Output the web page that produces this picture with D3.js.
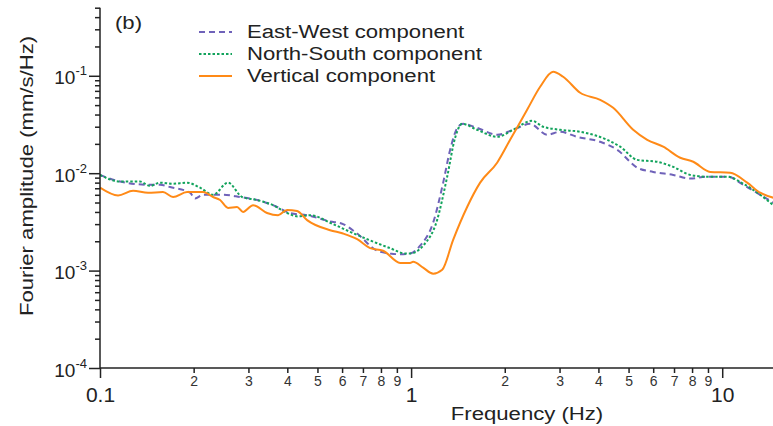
<!DOCTYPE html>
<html>
<head>
<meta charset="utf-8">
<title>Fourier amplitude spectra</title>
<script src="https://cdn.jsdelivr.net/npm/d3@7"></script>
<style>
    body { margin: 0; background: #fff; }
    text { font-family: "Liberation Sans", Arial, sans-serif; fill: #222; }
    .axis path, .axis line { stroke: #222; stroke-width: 1.5; }
</style>
</head>
<body>
<svg id="chart" width="773" height="426"></svg>
<script>
    // frequencies (Hz) / amplitudes (mm/s/Hz)
    var ewFreq = [0.1, 0.116, 0.1448, 0.156, 0.168, 0.1947, 0.2021, 0.2144, 0.2486, 0.2819, 0.3198, 0.3708, 0.4083,
        0.4631, 0.549, 0.6045, 0.6708, 0.7776, 0.856, 0.9219, 0.9926, 1.069, 1.177, 1.268, 1.335, 1.416, 1.47, 1.63,
        1.89, 2.128, 2.413, 2.737, 3.014, 3.419, 4.053, 4.597, 5.33, 6.0, 6.96, 7.89, 8.95, 10.4, 11.68, 13.25, 14.59];
    var ewAmp = [0.0096, 0.0082, 0.0076, 0.0076, 0.0072, 0.0063, 0.0055, 0.006, 0.006, 0.0057, 0.0053, 0.0045, 0.0039,
        0.0037, 0.0032, 0.003, 0.0024, 0.0016, 0.0015, 0.00147, 0.0015, 0.0018, 0.0031, 0.008, 0.0174, 0.03, 0.0321, 0.0292,
        0.0248, 0.0279, 0.0321, 0.0248, 0.0266, 0.0236, 0.021, 0.0174, 0.0114, 0.0103, 0.0096, 0.0088, 0.0092, 0.0092, 0.0076, 0.006, 0.005];

    var nsFreq = [0.1, 0.116, 0.1345, 0.1448, 0.156, 0.1717, 0.1905, 0.2097, 0.2309, 0.258, 0.2861, 0.3198, 0.36, 0.3993,
        0.4333, 0.4734, 0.5614, 0.6367, 0.7222, 0.856, 0.9565, 0.9926, 1.093, 1.212, 1.306, 1.385, 1.459, 1.63, 1.89,
        2.128, 2.449, 2.657, 3.014, 3.495, 4.268, 4.699, 5.33, 6.18, 6.96, 7.89, 8.95, 10.4, 11.68, 13.25, 14.59];
    var nsAmp = [0.0096, 0.0082, 0.0082, 0.0074, 0.008, 0.0078, 0.008, 0.0071, 0.006, 0.008, 0.0057, 0.0053, 0.0047, 0.0039,
        0.0036, 0.0037, 0.003, 0.0025, 0.0021, 0.0017, 0.0015, 0.0015, 0.0018, 0.0033, 0.0092, 0.0231, 0.0321, 0.0279, 0.0236,
        0.0279, 0.0345, 0.03, 0.0279, 0.0266, 0.022, 0.0187, 0.0137, 0.0131, 0.0116, 0.0096, 0.0092, 0.0092, 0.0078, 0.006, 0.0047];

    var vFreq = [0.1, 0.1143, 0.1277, 0.1427, 0.1594, 0.1717, 0.1905, 0.2144, 0.2309, 0.2432, 0.258, 0.2757, 0.2882,
        0.3105, 0.3443, 0.3736, 0.3993, 0.4299, 0.4631, 0.549, 0.6045, 0.6708, 0.7384, 0.8128, 0.9219, 0.9926, 1.015,
        1.093, 1.177, 1.259, 1.365, 1.514, 1.667, 1.89, 2.081, 2.36, 2.599, 2.861, 3.081, 3.495, 4.053, 4.462, 5.174,
        5.74, 6.46, 7.33, 8.07, 9.15, 10.6, 12.03, 13.25, 14.59];
    var vAmp = [0.0071, 0.0059, 0.0066, 0.0063, 0.0064, 0.0057, 0.0064, 0.0064, 0.0057, 0.0053, 0.0044, 0.0045, 0.004,
        0.0047, 0.0039, 0.0037, 0.0042, 0.0041, 0.0033, 0.0026, 0.0024, 0.0021, 0.0017, 0.0016, 0.0012, 0.0012, 0.00123,
        0.00107, 0.00093, 0.00102, 0.00207, 0.0045, 0.008, 0.0128, 0.022, 0.0448, 0.0771, 0.11, 0.0977, 0.0669, 0.0567,
        0.0469, 0.0279, 0.022, 0.0187, 0.0144, 0.0131, 0.0103, 0.0101, 0.008, 0.0063, 0.0056];

    var seriesNames = ["East-West component", "North-South component", "Vertical component"];
    var xMajor = [0.1, 1, 10];
    var xMinor = [0.2, 0.3, 0.4, 0.5, 0.6, 0.7, 0.8, 0.9, 2, 3, 4, 5, 6, 7, 8, 9];
    var yMajor = [1e-4, 1e-3, 1e-2, 1e-1];
    var yMajorExp = ["-4", "-3", "-2", "-1"];

    var svg = d3.select("#chart");
    var mLeft = 100, mRight = 777, mTop = 7.7, mBottom = 368;
    var wide = 1.23; // the original lettering is wider than Liberation Sans

    var x = d3.scaleLog().domain([0.1, 15]).range([mLeft, mRight]);
    var y = d3.scaleLog().domain([1e-4, 0.5]).range([mBottom, mTop]);

    // y minor ticks
    var yMinor = [];
    yMajor.forEach(function (d) {
        for (var k = 2; k <= 9; k++) {
            if (d * k <= 0.5 + 1e-9) yMinor.push(d * k);
        }
    });

    svg.append("clipPath").attr("id", "clip")
        .append("rect").attr("x", mLeft).attr("y", mTop).attr("width", mRight - mLeft).attr("height", mBottom - mTop);

    // curves
    var line = d3.line()
        .x(function (d) { return x(d[0]); })
        .y(function (d) { return y(d[1]); })
        .curve(d3.curveMonotoneX);

    function pairs(f, a) { return f.map(function (v, i) { return [v, a[i]]; }); }

    var series = [
        {data: pairs(ewFreq, ewAmp), color: "#6f62b9", dash: "6,4"},
        {data: pairs(nsFreq, nsAmp), color: "#12a35c", dash: "2.5,2"},
        {data: pairs(vFreq, vAmp), color: "#ff8a17", dash: null}
    ];

    var g = svg.append("g").attr("clip-path", "url(#clip)");
    g.selectAll("path").data(series).enter().append("path")
        .attr("d", function (d) { return line(d.data); })
        .attr("fill", "none")
        .attr("stroke", function (d) { return d.color; })
        .attr("stroke-width", 2)
        .attr("stroke-dasharray", function (d) { return d.dash; });

    // x axis: minor then major
    var xMinorAxis = svg.append("g").attr("class", "axis")
        .attr("transform", "translate(0," + mBottom + ")")
        .call(d3.axisBottom(x).tickValues(xMinor).tickSize(5).tickSizeOuter(0).tickPadding(3)
            .tickFormat(function (d) { return String(Math.round(d / Math.pow(10, Math.floor(Math.log10(d) + 1e-9)))); }));
    xMinorAxis.selectAll("text").attr("font-size", 14).style("fill", "#333");
    xMinorAxis.select(".domain").attr("d", "M" + mLeft + ",0H773");

    var xMajorAxis = svg.append("g").attr("class", "axis")
        .attr("transform", "translate(0," + mBottom + ")")
        .call(d3.axisBottom(x).tickValues(xMajor).tickSize(10).tickSizeOuter(0).tickPadding(5)
            .tickFormat(function (d) { return d < 1 ? "0.1" : String(d); }));
    xMajorAxis.select(".domain").remove();
    xMajorAxis.selectAll("text").attr("font-size", 21).attr("dy", "0.9em");

    // y axis: minor then major
    var yMinorAxis = svg.append("g").attr("class", "axis")
        .attr("transform", "translate(" + mLeft + ",0)")
        .call(d3.axisLeft(y).tickValues(yMinor).tickSize(5).tickSizeOuter(0).tickFormat(""));
    yMinorAxis.select(".domain").attr("d", "M0," + mTop + "V" + mBottom);

    var yMajorAxis = svg.append("g").attr("class", "axis")
        .attr("transform", "translate(" + mLeft + ",0)")
        .call(d3.axisLeft(y).tickValues(yMajor).tickSize(11).tickSizeOuter(0).tickFormat(""));
    yMajorAxis.select(".domain").remove();

    yMajorAxis.selectAll(".tick").each(function (d, i) {
        var t = d3.select(this).append("text")
            .attr("x", -13).attr("y", 8)
            .attr("text-anchor", "end")
            .attr("font-size", 19)
            .style("fill", "#222");
        t.append("tspan").text("10");
        t.append("tspan").attr("dy", -9).attr("font-size", 13).text(yMajorExp[i]);
    });

    // titles
    function label(px, py, rot, size, anchor, str) {
        svg.append("g")
            .attr("transform", "translate(" + px + "," + py + ") rotate(" + rot + ") scale(" + wide + ",1)")
            .append("text")
            .attr("text-anchor", anchor)
            .attr("font-size", size)
            .text(str);
    }

    label(527, 420, 0, 18, "middle", "Frequency (Hz)");
    label(33, 176, -90, 18, "middle", "Fourier amplitude (mm/s/Hz)");
    label(115, 29, 0, 18, "start", "(b)");

    // legend
    var legend = svg.append("g").attr("transform", "translate(199,32)");
    var rows = legend.selectAll("g").data(series).enter().append("g")
        .attr("transform", function (d, i) { return "translate(0," + i * 22 + ")"; });
    rows.append("line")
        .attr("x1", 0).attr("x2", 33).attr("y1", 0).attr("y2", 0)
        .attr("stroke", function (d) { return d.color; })
        .attr("stroke-width", 2)
        .attr("stroke-dasharray", function (d) { return d.dash; });
    rows.append("text")
        .attr("transform", "translate(48,6) scale(" + wide + ",1)")
        .attr("font-size", 18)
        .text(function (d, i) { return seriesNames[i]; });
</script>
</body>
</html>
